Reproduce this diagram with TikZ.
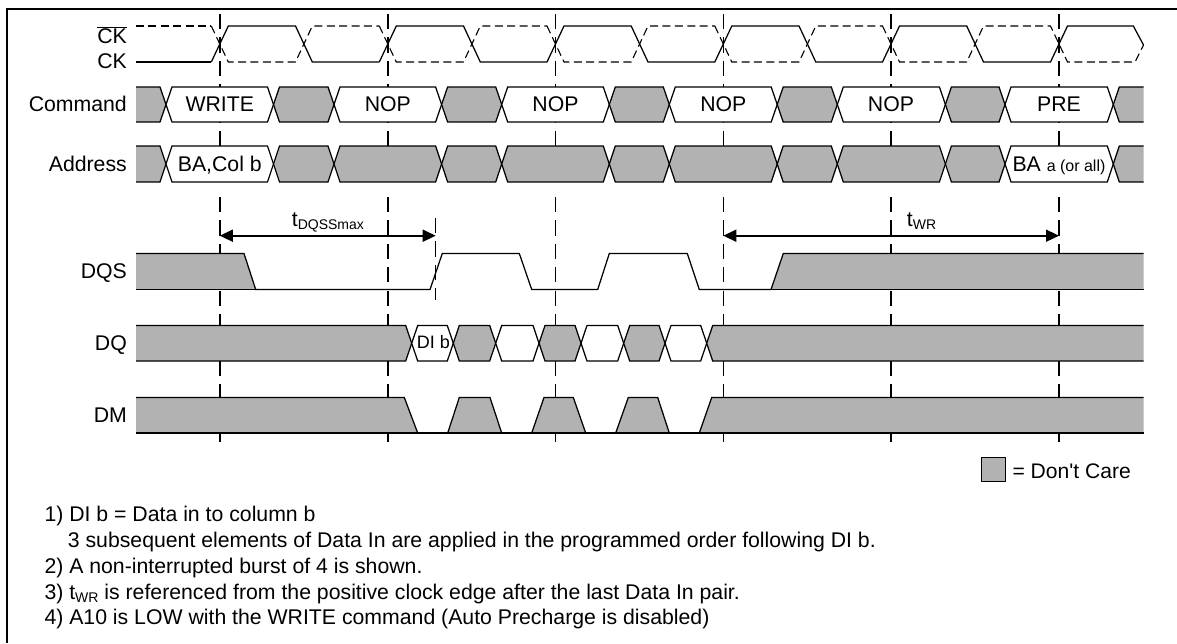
\documentclass[tikz,border=0pt]{standalone}
\usepackage{fontspec}
\setmainfont{Liberation Sans}
\newfontfamily\plainf{Liberation Sans}
\usetikzlibrary{arrows.meta}
\definecolor{dc}{HTML}{B2B2B2}
\tikzset{
  sig/.style={line width=1.25pt,line join=miter,black},
  sigdash/.style={line width=1.1pt,dash pattern=on 8pt off 4.4pt,black},
  guide/.style={line width=1.4pt,dash pattern=on 15.2pt off 8.2pt,black},
  dim/.style={line width=1.6pt,{Triangle[length=13pt,width=12pt]}-{Triangle[length=13pt,width=12pt]}},
  lab/.style={inner sep=0pt,anchor=base east,font=\fontsize{21.25}{21.25}\selectfont},
  txt/.style={inner sep=0pt,anchor=base,font=\fontsize{21.25}{21.25}\selectfont},
  note/.style={inner sep=0pt,anchor=base west,font=\fontsize{21.25}{21.25}\selectfont},
}
\newcommand\hexcell[5]{% c1,c2,top,bot,fill
  \filldraw[sig,fill=#5] (#1,{(#3+#4)/2}) -- ({#1+6},#3) -- ({#2-6},#3) -- (#2,{(#3+#4)/2}) -- ({#2-6},#4) -- ({#1+6},#4) -- cycle;}
\newcommand\openleft[3]{% c,top,bot
  \fill[dc] (136,#2) -- ({#1-6},#2) -- (#1,{(#2+#3)/2}) -- ({#1-6},#3) -- (136,#3) -- cycle;
  \draw[sig] (136,#2) -- ({#1-6},#2) -- (#1,{(#2+#3)/2}) -- ({#1-6},#3) -- (136,#3);}
\newcommand\openright[3]{%
  \fill[dc] (1143.5,#2) -- ({#1+6},#2) -- (#1,{(#2+#3)/2}) -- ({#1+6},#3) -- (1143.5,#3) -- cycle;
  \draw[sig] (1143.5,#2) -- ({#1+6},#2) -- (#1,{(#2+#3)/2}) -- ({#1+6},#3) -- (1143.5,#3);}
\begin{document}
\begin{tikzpicture}[x=1pt,y=-1pt]
\useasboundingbox (0,0) rectangle (1177,643);
% frame
\draw[line width=1.8pt] (6.7,643) -- (6.7,9) -- (1177,9);
% guides
\foreach \v in {219.8,387.8,555.5,723.3,891,1059}{
  \draw[guide] (\v,14) -- (\v,146);
  \draw[guide] (\v,197) -- (\v,442);
}
\draw[guide] (435.7,218) -- (435.7,300);
% clock
\foreach \v in {219.8,555.5}{
  \draw[sig] ({\v-8.5},62) -- ({\v+8.5},26) -- ({\v+75.7},26) -- ({\v+92.5},62) -- ({\v+159.5},62);
  \draw[sigdash] ({\v-8.5},26) -- ({\v+8.5},62) -- ({\v+75.7},62) -- ({\v+92.5},26) -- ({\v+159.5},26);
}
\draw[sig] (136,62) -- (211.3,62);
\draw[sigdash] (136,26) -- (211.3,26);
\foreach \v in {387.8,723.3}{
  \draw[sig] ({\v-8.5},62) -- ({\v+8.5},26) -- ({\v+75.7},26) -- ({\v+92.5},62) -- ({\v+159.5},62);
  \draw[sigdash] ({\v-8.5},26) -- ({\v+8.5},62) -- ({\v+75.7},62) -- ({\v+92.5},26) -- ({\v+159.5},26);
}
\draw[sig] (882.5,62) -- (899.5,26) -- (966.7,26) -- (983.5,62) -- (1050.5,62) -- (1067.5,26) -- (1133.3,26) -- (1143.5,45);
\draw[sigdash] (882.5,26) -- (899.5,62) -- (966.7,62) -- (983.5,26) -- (1050.5,26) -- (1067.5,62) -- (1135,62) -- (1143.5,45);
% command
\openleft{166}{87}{122}
\hexcell{166}{273.5}{87}{122}{white}
\hexcell{273.5}{334}{87}{122}{dc}
\hexcell{334}{441.6}{87}{122}{white}
\hexcell{441.6}{501.7}{87}{122}{dc}
\hexcell{501.7}{609.3}{87}{122}{white}
\hexcell{609.3}{669.3}{87}{122}{dc}
\hexcell{669.3}{777.2}{87}{122}{white}
\hexcell{777.2}{837.3}{87}{122}{dc}
\hexcell{837.3}{945.4}{87}{122}{white}
\hexcell{945.4}{1005}{87}{122}{dc}
\hexcell{1005}{1113.3}{87}{122}{white}
\openright{1113.3}{87}{122}
% address
\openleft{166}{146}{182}
\hexcell{166}{273.5}{146}{182}{white}
\hexcell{273.5}{334}{146}{182}{dc}
\hexcell{334}{441.6}{146}{182}{dc}
\hexcell{441.6}{501.7}{146}{182}{dc}
\hexcell{501.7}{609.3}{146}{182}{dc}
\hexcell{609.3}{669.3}{146}{182}{dc}
\hexcell{669.3}{777.2}{146}{182}{dc}
\hexcell{777.2}{837.3}{146}{182}{dc}
\hexcell{837.3}{945.4}{146}{182}{dc}
\hexcell{945.4}{1005}{146}{182}{dc}
\hexcell{1005}{1113.3}{146}{182}{white}
\openright{1113.3}{146}{182}
% DQS
\fill[dc] (136,253.5) -- (244,253.5) -- (255.7,289.5) -- (136,289.5) -- cycle;
\fill[dc] (771,289.5) -- (783.3,253.5) -- (1143.5,253.5) -- (1143.5,289.5) -- cycle;
\draw[sig] (136,253.5) -- (244,253.5) -- (255.7,289.5) -- (430,289.5) -- (442.3,253.5) -- (519.3,253.5) -- (531.7,289.5) -- (597.7,289.5) -- (609.3,253.5) -- (687.3,253.5) -- (699.3,289.5) -- (771,289.5) -- (783.3,253.5) -- (1143.5,253.5);
\draw[sig] (136,289.5) -- (255.7,289.5);
\draw[sig] (771,289.5) -- (1143.5,289.5);
% DQ
\openleft{411.7}{325.5}{361}
\hexcell{411.7}{453.3}{325.5}{361}{white}
\hexcell{453.3}{495.7}{325.5}{361}{dc}
\hexcell{495.7}{539}{325.5}{361}{white}
\hexcell{539}{581}{325.5}{361}{dc}
\hexcell{581}{623.7}{325.5}{361}{white}
\hexcell{623.7}{665}{325.5}{361}{dc}
\hexcell{665}{706.7}{325.5}{361}{white}
\openright{706.7}{325.5}{361}
% DM
\fill[dc] (136,397.5) -- (404.3,397.5) -- (417.7,433) -- (136,433) -- cycle;
\filldraw[sig,fill=dc] (447.7,433) -- (459.3,397.5) -- (490,397.5) -- (501.7,433);
\filldraw[sig,fill=dc] (531.7,433) -- (544,397.5) -- (573.3,397.5) -- (585.7,433);
\filldraw[sig,fill=dc] (615.7,433) -- (628.3,397.5) -- (657.7,397.5) -- (669.3,433);
\fill[dc] (699.3,433) -- (711.7,397.5) -- (1143.5,397.5) -- (1143.5,433) -- cycle;
\draw[sig] (136,397.5) -- (404.3,397.5) -- (417.7,433);
\draw[sig] (699.3,433) -- (711.7,397.5) -- (1143.5,397.5);
\draw[sig] (136,433) -- (1143.5,433);
% dimension arrows
\coordinate (dqsL) at (219.8,235.7);
\coordinate (dqsR) at (435.7,235.7);
\coordinate (wrL) at (723.3,235.7);
\coordinate (wrR) at (1059,235.7);
\draw[dim] (dqsL) -- (dqsR);
\draw[dim] (wrL) -- (wrR);
\node[inner sep=0pt,anchor=base west,font=\fontsize{21.25}{21.25}\selectfont] (tdqss) at (291.7,226.5) {t\raisebox{-3.2pt}{\fontsize{14}{14}\selectfont DQSSmax}};
\node[inner sep=0pt,anchor=base west,font=\fontsize{21.25}{21.25}\selectfont] (twr) at (906.7,226.5) {t\raisebox{-3.2pt}{\fontsize{14}{14}\selectfont WR}};
% row labels
\node[lab] (ckbar) at (127,43) {$\overline{\hbox{CK}}$};
\node[lab] (ck) at (127,68) {CK};
\node[lab] (command) at (127,111) {Command};
\node[lab] (address) at (127,171) {Address};
\node[lab] (dqs) at (127,278.8) {DQS};
\node[lab] (dq) at (127,350.5) {DQ};
\node[lab] (dm) at (127,422.3) {DM};
% cell labels
\node[txt] (cmd1) at (219.8,111) {WRITE};
\node[txt] (cmd2) at (387.8,111) {NOP};
\node[txt] (cmd3) at (555.5,111) {NOP};
\node[txt] (cmd4) at (723.3,111) {NOP};
\node[txt] (cmd5) at (891,111) {NOP};
\node[txt] (cmd6) at (1059,111) {PRE};
\node[txt] (adr1) at (219.8,171) {BA,Col b};
\node[inner sep=0pt,anchor=base west,font=\fontsize{21.25}{21.25}\selectfont] (adr2) at (1012.3,171) {BA \fontsize{16}{16}\selectfont a (or all)};
\node[inner sep=0pt,anchor=base west,font=\fontsize{18}{18}\selectfont] (dib) at (416.7,348.3) {DI b};
% legend
\node[draw,line width=1.4pt,fill=dc,inner sep=0pt,minimum size=24pt,anchor=center] (legbox) at (993.2,469.2) {};
\node[inner sep=0pt,anchor=base west,font=\plainf\fontsize{21.1}{21.1}\selectfont] (legtxt) at (1012.3,478) {= Don't Care};
% notes
\node[note] (n1) at (44.3,521.7) {1) DI b = Data in to column b};
\node[note] (n1b) at (67.7,547.7) {3 subsequent elements of Data In are applied in the programmed order following DI b.};
\node[note] (n2) at (44.3,573.3) {2) A non-interrupted burst of 4 is shown.};
\node[note] (n3) at (44.3,599) {3) t\raisebox{-3.2pt}{\fontsize{14}{14}\selectfont WR} is referenced from the positive clock edge after the last Data In pair.};
\node[note] (n4) at (44.3,624.3) {4) A10 is LOW with the WRITE command (Auto Precharge is disabled)};
\end{tikzpicture}
\end{document}
